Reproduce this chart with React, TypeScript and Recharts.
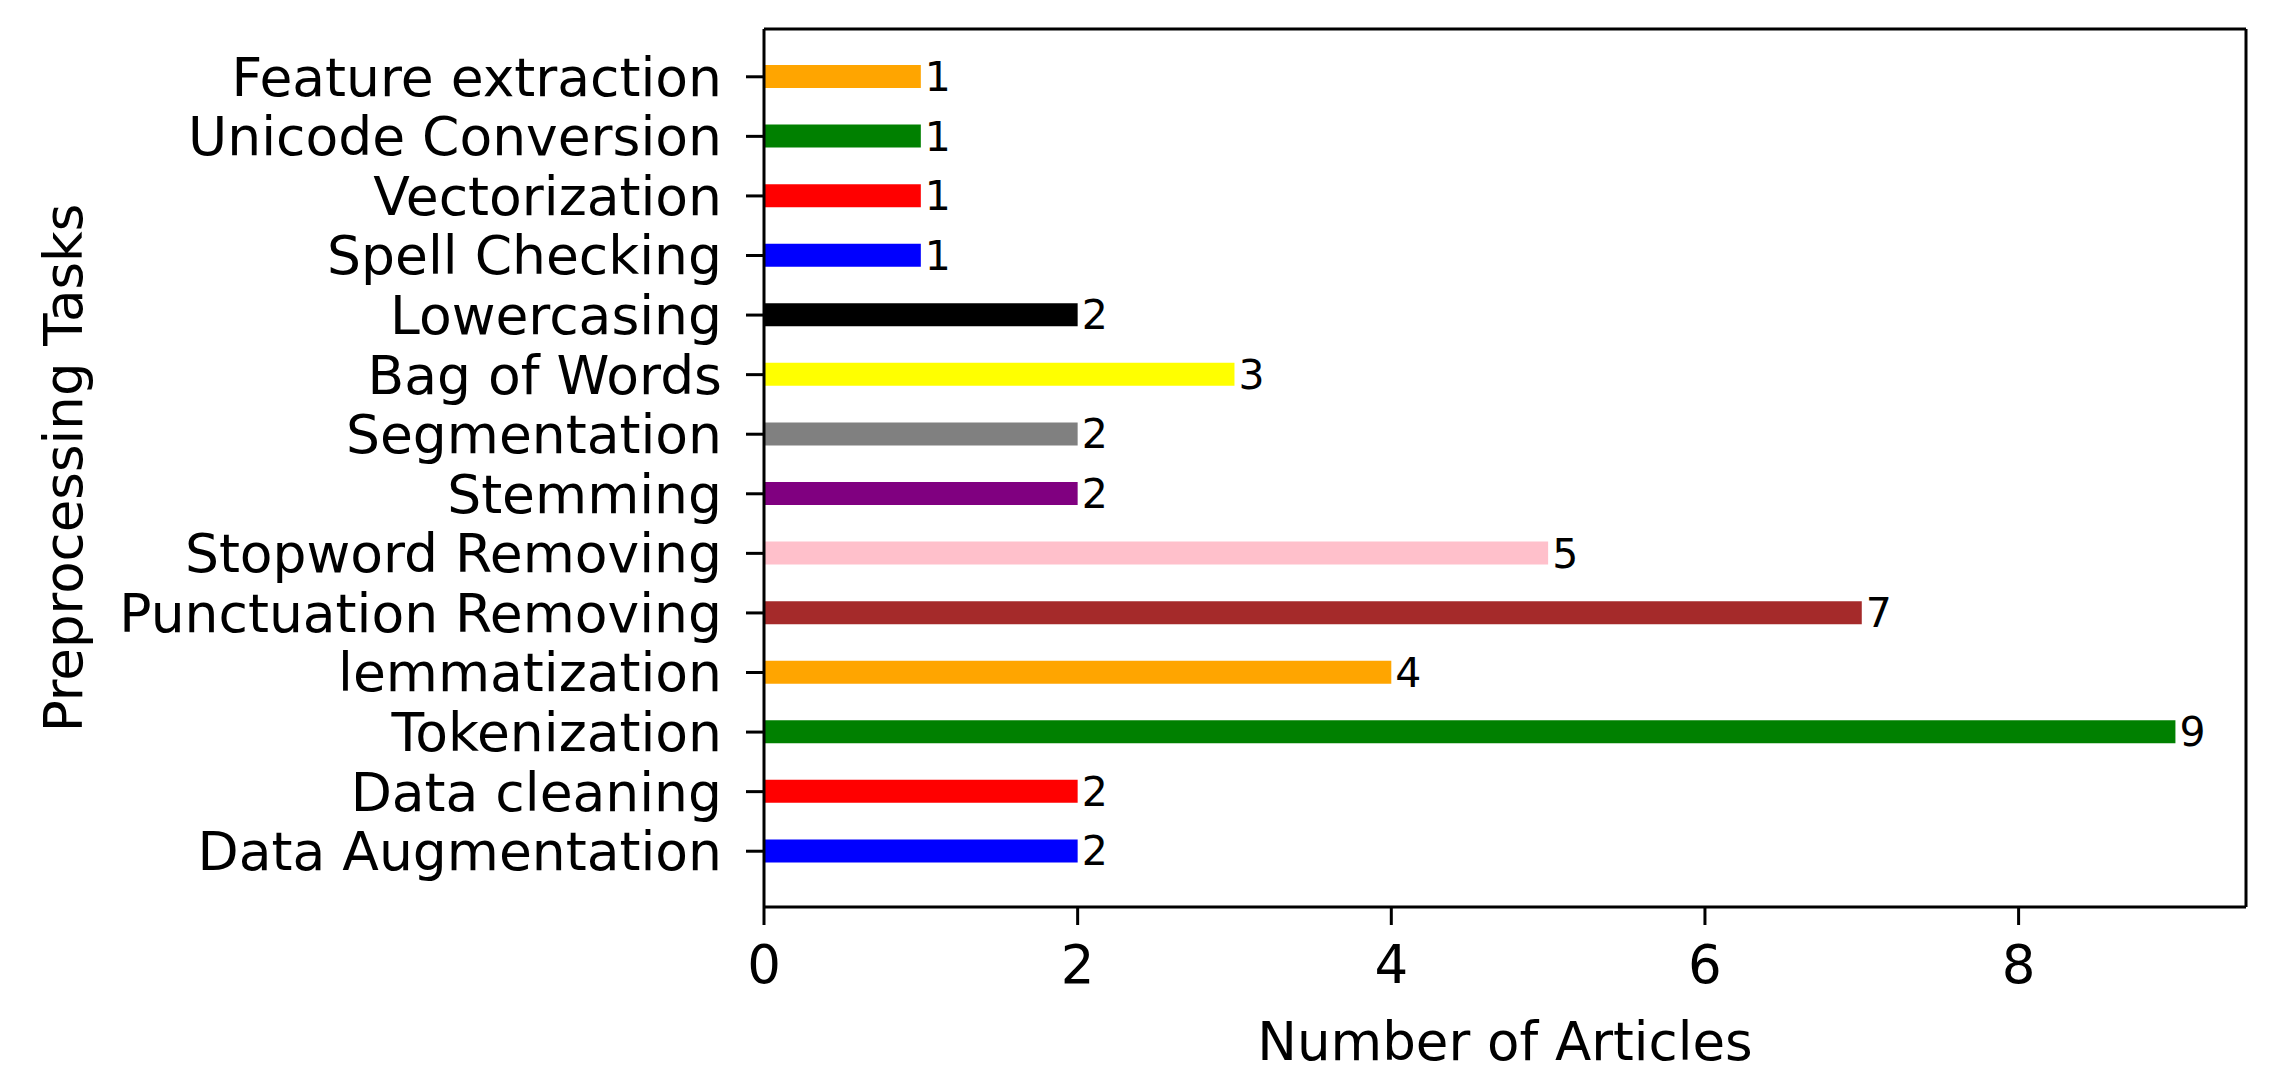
import { Bar, BarChart, Cell, LabelList, XAxis, YAxis } from "recharts";

// Top-to-bottom order, as the bars appear in the figure.
const TASKS = [
  "Feature extraction",
  "Unicode Conversion",
  "Vectorization",
  "Spell Checking",
  "Lowercasing",
  "Bag of Words",
  "Segmentation",
  "Stemming",
  "Stopword Removing",
  "Punctuation Removing",
  "lemmatization",
  "Tokenization",
  "Data cleaning",
  "Data Augmentation",
];
const ARTICLES = [1, 1, 1, 1, 2, 3, 2, 2, 5, 7, 4, 9, 2, 2];
const BAR_COLORS = [
  "#FFA500", "#008000", "#FF0000", "#0000FF", "#000000", "#FFFF00", "#808080",
  "#800080", "#FFC0CB", "#A52A2A", "#FFA500", "#008000", "#FF0000", "#0000FF",
];
const X_TICKS = [0, 2, 4, 6, 8];
const X_MAX = 9.45; // matplotlib's 5% margin past the longest bar

const FONT = "'DejaVu Sans', sans-serif";
const INK = "#000000";

const data = TASKS.map((name, i) => ({ name, value: ARTICLES[i] }));

export default function App() {
  return (
    <div style={{ position: "absolute", left: 0, top: 0, background: "#fff" }}>
      <BarChart
        width={2277}
        height={1088}
        data={data}
        layout="vertical"
        margin={{ top: 28, right: 30, bottom: 0, left: 0 }}
        style={{ fontFamily: FONT }}
      >
        <XAxis
          type="number"
          domain={[0, X_MAX]}
          ticks={X_TICKS}
          allowDataOverflow
          height={181}
          tickSize={18}
          tickMargin={20}
          tick={{ fill: INK, fontSize: 53, fontFamily: FONT }}
          tickLine={{ stroke: INK, strokeWidth: 3 }}
          axisLine={{ stroke: INK, strokeWidth: 3 }}
          label={{
            content: ({ viewBox }: any) => (
              <text
                x={viewBox.x + viewBox.width / 2}
                y={1060}
                textAnchor="middle"
                fill={INK}
                fontSize={53}
                fontFamily={FONT}
              >
                Number of Articles
              </text>
            ),
          }}
        />
        {/* top spine */}
        <XAxis
          xAxisId="top"
          orientation="top"
          type="number"
          domain={[0, X_MAX]}
          allowDataOverflow
          height={1}
          tick={false}
          tickLine={false}
          axisLine={{ stroke: INK, strokeWidth: 3 }}
        />
        <YAxis
          type="category"
          dataKey="name"
          width={764}
          interval={0}
          padding={{ top: 18, bottom: 26 }}
          tickSize={18}
          tickMargin={24}
          tick={{ fill: INK, fontSize: 53.5, fontFamily: FONT }}
          tickLine={{ stroke: INK, strokeWidth: 3 }}
          axisLine={{ stroke: INK, strokeWidth: 3 }}
          label={{
            content: ({ viewBox }: any) => {
              const cy = viewBox.y + viewBox.height / 2;
              return (
                <text
                  x={82}
                  y={cy}
                  transform={`rotate(-90, 82, ${cy})`}
                  textAnchor="middle"
                  fill={INK}
                  fontSize={53}
                  fontFamily={FONT}
                >
                  Preprocessing Tasks
                </text>
              );
            },
          }}
        />
        {/* right spine */}
        <YAxis
          yAxisId="right"
          orientation="right"
          type="category"
          dataKey="name"
          width={1}
          tick={false}
          tickLine={false}
          axisLine={{ stroke: INK, strokeWidth: 3 }}
        />
        <Bar dataKey="value" barSize={23} isAnimationActive={false}>
          {data.map((d, i) => (
            <Cell key={d.name} fill={BAR_COLORS[i]} />
          ))}
          <LabelList
            dataKey="value"
            position="right"
            offset={4}
            fill={INK}
            fontSize={41}
            fontFamily={FONT}
          />
        </Bar>
      </BarChart>
    </div>
  );
}
